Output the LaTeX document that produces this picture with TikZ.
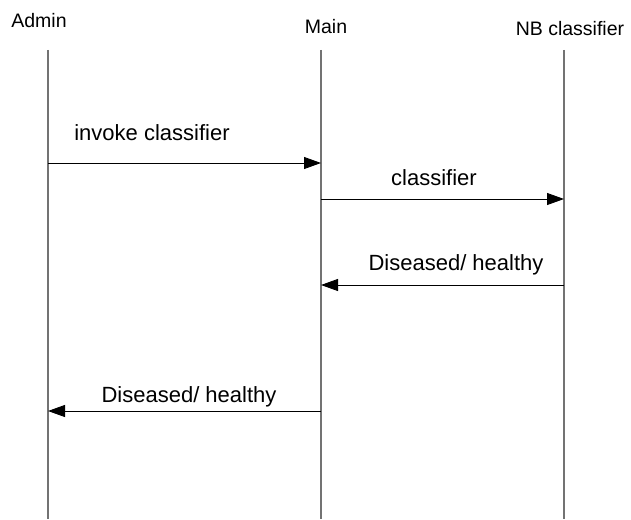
\documentclass[tikz,border=0pt]{standalone}
\usepackage{fontspec}
\setmainfont{Liberation Sans}
\usetikzlibrary{arrows.meta}
\begin{document}
\begin{tikzpicture}[x=1pt,y=-1pt,
  header/.style={anchor=base,inner sep=0pt,font=\fontsize{19.5}{22}\selectfont},
  msglabel/.style={anchor=base,inner sep=0pt,font=\fontsize{22}{25}\selectfont},
  lifeline/.style={draw=black!55,line width=1.4pt},
  msg/.style={draw=black,line width=0.9pt,-{Triangle[length=17pt,width=12pt]}}]
\useasboundingbox (0,0) rectangle (631,519);
% headers
\node[header] (hadmin) at (39,28) {Admin};
\node[header] (hmain) at (326,34) {Main};
\node[header] (hnb) at (570,36) {NB classifier};
% lifelines
\coordinate (atop) at (48,50); \coordinate (abot) at (48,519);
\coordinate (mtop) at (321,50); \coordinate (mbot) at (321,519);
\coordinate (ntop) at (564,50); \coordinate (nbot) at (564,519);
\draw[lifeline] (atop) -- (abot);
\draw[lifeline] (mtop) -- (mbot);
\draw[lifeline] (ntop) -- (nbot);
% message points
\coordinate (a1) at (48,163); \coordinate (m1) at (321,163);
\coordinate (m2) at (321,199); \coordinate (n2) at (564,199);
\coordinate (n3) at (564,285); \coordinate (m3) at (321,285);
\coordinate (m4) at (321,411); \coordinate (a4) at (48,411);
\draw[msg] (a1) -- (m1);
\draw[msg] (m2) -- (n2);
\draw[msg] (n3) -- (m3);
\draw[msg] (m4) -- (a4);
% labels
\node[msglabel] (l1) at (152,140) {invoke classifier};
\node[msglabel] (l2) at (434,185) {classifier};
\node[msglabel] (l3) at (456,270) {Diseased/ healthy};
\node[msglabel] (l4) at (189,402) {Diseased/ healthy};
\end{tikzpicture}
\end{document}
